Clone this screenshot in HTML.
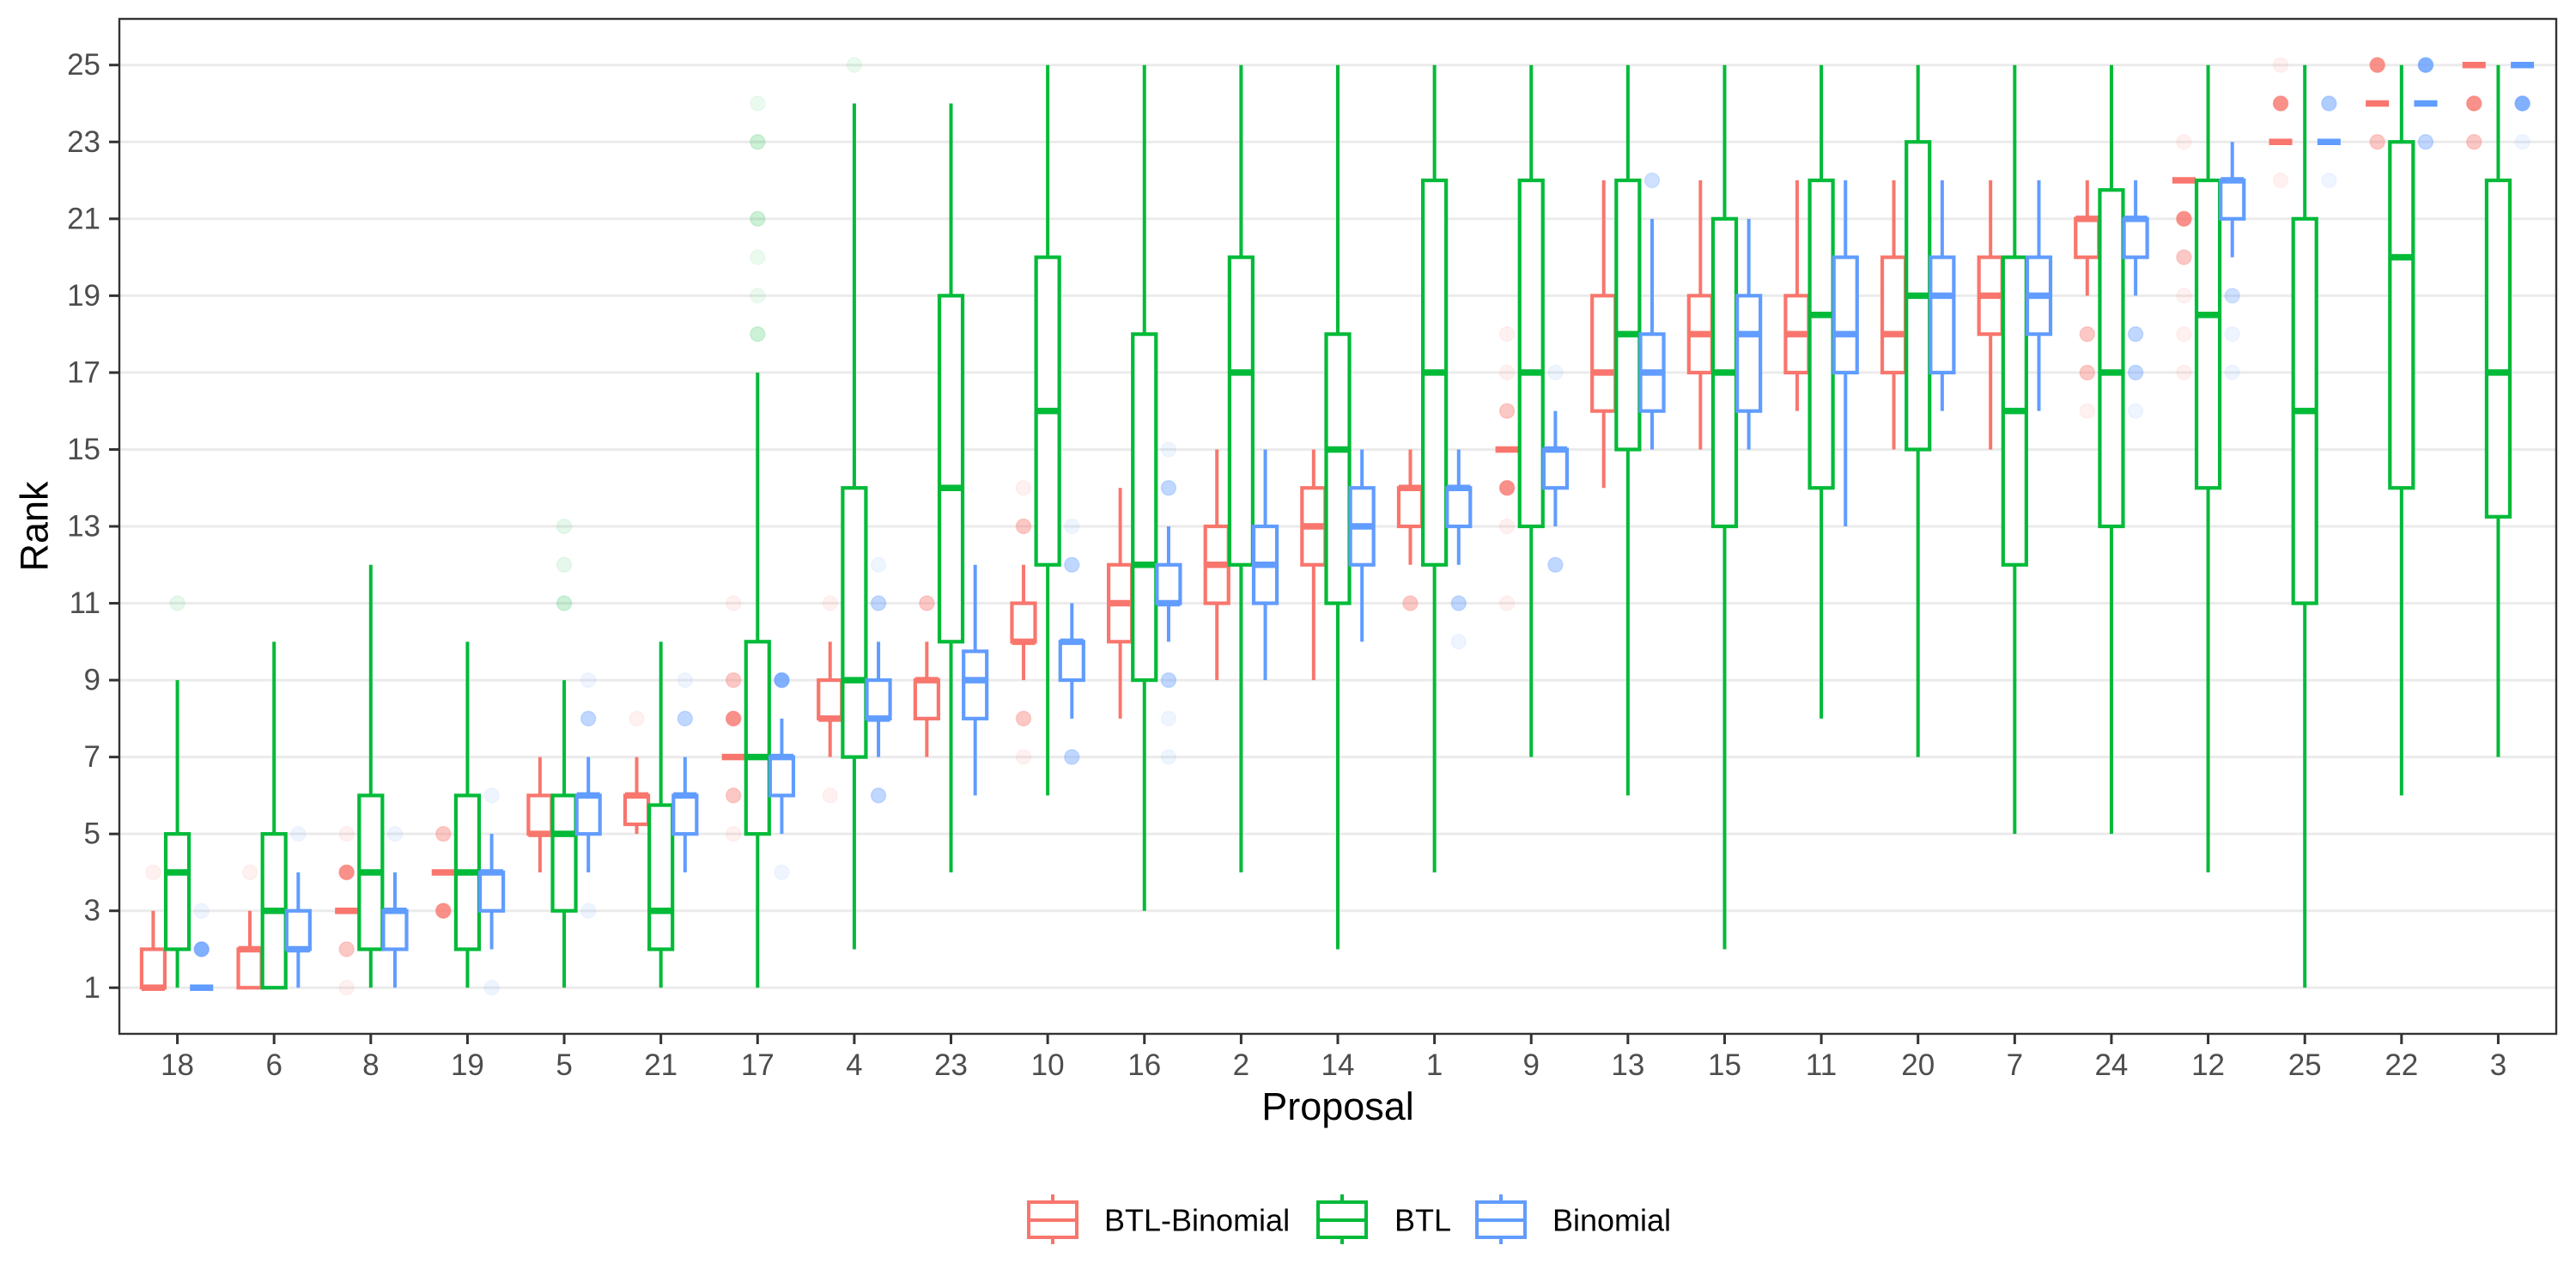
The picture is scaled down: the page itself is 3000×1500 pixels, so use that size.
<!DOCTYPE html>
<html><head><meta charset="utf-8"><style>
html,body{margin:0;padding:0;background:#fff;}
svg{display:block;font-family:"Liberation Sans",Arial,sans-serif;}
</style></head><body>
<svg id="chart" xmlns="http://www.w3.org/2000/svg" width="3000" height="1500" viewBox="0 0 3000 1500">
<rect x="0" y="0" width="3000" height="1500" fill="#fff"/>
<g id="grid"></g>
<g id="marks"></g>
<rect x="139" y="22" width="2838" height="1182" fill="none" stroke="#333" stroke-width="2.4"/>
<g id="axes"></g>
<text x="40" y="613" transform="rotate(-90 40 613)" text-anchor="middle" dominant-baseline="central" font-size="45" fill="#000">Rank</text>
<text x="1558" y="1304" text-anchor="middle" font-size="45" fill="#000">Proposal</text>
<g id="legend"></g>
</svg>
<script>
const categories=[18,6,8,19,5,21,17,4,23,10,16,2,14,1,9,13,15,11,20,7,24,12,25,22,3];
const yTicks=[1,3,5,7,9,11,13,15,17,19,21,23,25];
const seriesNames=["BTL-Binomial","BTL","Binomial"];
const seriesColors=["#F8766D","#00BA38","#619CFF"];

const bbLo =[1,1,3,4,4,5,7,7,7,9,8,9,9,12,15,14,15,16,15,15,19,22,23,24,25];
const bbQ1 =[1,1,3,4,5,5.25,7,8,8,10,10,11,12,13,15,16,17,17,17,18,20,22,23,24,25];
const bbMed=[1,2,3,4,5,6,7,8,9,10,11,12,13,14,15,17,18,18,18,19,21,22,23,24,25];
const bbQ3 =[2,2,3,4,6,6,7,9,9,11,12,13,14,14,15,19,19,19,20,20,21,22,23,24,25];
const bbHi =[3,3,3,4,7,7,7,10,10,12,14,15,15,15,15,22,22,22,22,22,22,22,23,24,25];

const btlLo =[1,1,1,1,1,1,1,2,4,6,3,4,2,4,7,6,2,8,7,5,5,4,1,6,7];
const btlQ1 =[2,1,2,2,3,2,5,7,10,12,9,12,11,12,13,15,13,14,15,12,13,14,11,14,13.25];
const btlMed=[4,3,4,4,5,3,7,9,14,16,12,17,15,17,17,18,17,18.5,19,16,17,18.5,16,20,17];
const btlQ3 =[5,5,6,6,6,5.75,10,14,19,20,18,20,18,22,22,22,21,22,23,20,21.75,22,21,23,22];
const btlHi =[9,10,12,10,9,10,17,24,24,25,25,25,25,25,25,25,25,25,25,25,25,25,25,25,25];

const binLo =[1,1,1,2,4,4,5,7,6,8,10,9,10,12,13,15,15,13,16,16,19,20,23,24,25];
const binQ1 =[1,2,2,3,5,5,6,8,8,9,11,11,12,13,14,16,16,17,17,18,20,21,23,24,25];
const binMed=[1,2,3,4,6,6,7,8,9,10,11,12,13,14,15,17,18,18,19,19,21,22,23,24,25];
const binQ3 =[1,3,3,4,6,6,7,9,9.75,10,12,13,14,14,15,18,19,20,20,20,21,22,23,24,25];
const binHi =[1,4,4,5,7,7,8,10,12,11,13,15,15,15,16,21,21,22,22,22,22,23,23,24,25];

// outliers: [category index, rank, opacity]
const bbOut=[[0,4,.1],[1,4,.1],[2,4,.8],[2,2,.4],[2,1,.1],[2,5,.1],[3,3,.8],[3,5,.4],[5,8,.1],[6,8,.8],[6,9,.4],[6,6,.4],[6,5,.1],[6,11,.1],[7,11,.1],[7,6,.1],[8,11,.4],[9,13,.4],[9,14,.1],[9,8,.4],[9,7,.1],[13,11,.4],[14,14,.8],[14,16,.4],[14,17,.1],[14,18,.1],[14,13,.1],[14,11,.1],[20,18,.4],[20,17,.4],[20,16,.1],[21,21,.8],[21,20,.4],[21,19,.1],[21,18,.1],[21,17,.1],[21,23,.1],[22,24,.8],[22,25,.1],[22,22,.1],[23,25,.8],[23,23,.4],[24,24,.8],[24,23,.4]];
const btlOut=[[0,11,.1],[4,11,.2],[4,12,.1],[4,13,.1],[6,18,.2],[6,19,.08],[6,20,.08],[6,21,.2],[6,23,.2],[6,24,.08],[7,25,.08]];
const binOut=[[0,2,.8],[0,3,.1],[1,5,.1],[2,5,.1],[3,6,.1],[3,1,.1],[4,8,.4],[4,9,.1],[4,3,.1],[5,8,.4],[5,9,.1],[6,9,.8],[6,4,.1],[7,11,.4],[7,12,.1],[7,6,.4],[9,12,.4],[9,13,.1],[9,7,.4],[10,14,.4],[10,15,.1],[10,9,.4],[10,8,.1],[10,7,.1],[13,11,.4],[13,10,.1],[14,17,.1],[14,12,.4],[15,22,.3],[20,18,.4],[20,17,.4],[20,16,.1],[21,19,.3],[21,18,.1],[21,17,.1],[22,24,.5],[22,22,.1],[23,25,.8],[23,23,.4],[24,24,.8],[24,23,.1]];

const NS="http://www.w3.org/2000/svg";
const PL=139,PR=2977,PT=22,PB=1204;
const step=(PR-PL)/(categories.length-1+1.2);
function xPos(i){return PL+(i+0.6)*step;}
function yPos(v){return PB-(v-(-0.2))/(26.4)*(PB-PT);}
function mk(tag,attrs,parent){const e=document.createElementNS(NS,tag);for(const k in attrs)e.setAttribute(k,attrs[k]);parent.appendChild(e);return e;}

const grid=document.getElementById('grid');
const axes=document.getElementById('axes');
yTicks.forEach(t=>{
  const y=yPos(t);
  const gl=mk('line',{x1:PL,x2:PR,y1:y,y2:y,stroke:'#ebebeb','stroke-width':3},grid);
  
  
  const tk=mk('line',{x1:127,x2:PL,y1:y,y2:y,stroke:'#333','stroke-width':3},axes);
  
  
  const lb=mk('text',{x:117,y:y,'text-anchor':'end','dominant-baseline':'central','font-size':35,fill:'#4d4d4d'},axes);
  lb.textContent=t;
  
  
});
categories.forEach((c,i)=>{
  const x=xPos(i);
  const tk=mk('line',{x1:x,x2:x,y1:PB,y2:PB+12,stroke:'#333','stroke-width':3},axes);
  
  
  const lb=mk('text',{x:x,y:1252,'text-anchor':'middle','font-size':35,fill:'#4d4d4d'},axes);
  lb.textContent=c;
  
  
});

const marks=document.getElementById('marks');
const series=[[bbLo,bbQ1,bbMed,bbQ3,bbHi,bbOut],[btlLo,btlQ1,btlMed,btlQ3,btlHi,btlOut],[binLo,binQ1,binMed,binQ3,binHi,binOut]];
const bw=step*0.24;
series.forEach((s,si)=>{
  const col=seriesColors[si];
  const off=(si-1)*step*0.25;
  const g=mk('g',{},marks);
  
  
  s[5].forEach(o=>{
    const p=mk('ellipse',{cx:xPos(o[0])+off,cy:yPos(o[1]),rx:8.5,ry:8.5,fill:col,'fill-opacity':o[2],stroke:col,'stroke-opacity':o[2]*0.7,'stroke-width':1.5},g);
    
    
  });
  categories.forEach((c,i)=>{
    const cx=xPos(i)+off;
    const lo=s[0][i],q1=s[1][i],md=s[2][i],q3=s[3][i],hi=s[4][i];
    const bg=mk('g',{},g);
    
    
    if(hi>q3) mk('line',{x1:cx,x2:cx,y1:yPos(q3),y2:yPos(hi),stroke:col,'stroke-width':4},bg);
    if(lo<q1) mk('line',{x1:cx,x2:cx,y1:yPos(q1),y2:yPos(lo),stroke:col,'stroke-width':4},bg);
    mk('rect',{x:cx-bw/2,y:yPos(q3),width:bw,height:Math.max(0,yPos(q1)-yPos(q3)),fill:'#fff',stroke:col,'stroke-width':4.2},bg);
    mk('line',{x1:cx-bw/2,x2:cx+bw/2,y1:yPos(md),y2:yPos(md),stroke:col,'stroke-width':7.5},bg);
  });
});

const legend=document.getElementById('legend');
const keyX=[1198,1535,1720],txtX=[1286,1624,1808];
seriesNames.forEach((n,i)=>{
  const col=seriesColors[i];
  const g=mk('g',{},legend);
  
  
  const kx=keyX[i],kc=kx+28;
  mk('line',{x1:kc,x2:kc,y1:1391,y2:1449,stroke:col,'stroke-width':4},g);
  mk('rect',{x:kx,y:1400,width:56,height:41,fill:'#fff',stroke:col,'stroke-width':4},g);
  mk('line',{x1:kx,x2:kx+56,y1:1421,y2:1421,stroke:col,'stroke-width':4},g);
  const t=mk('text',{x:txtX[i],y:1421,'dominant-baseline':'central','font-size':36,fill:'#000'},g);
  t.textContent=n;
});
</script>
</body></html>
